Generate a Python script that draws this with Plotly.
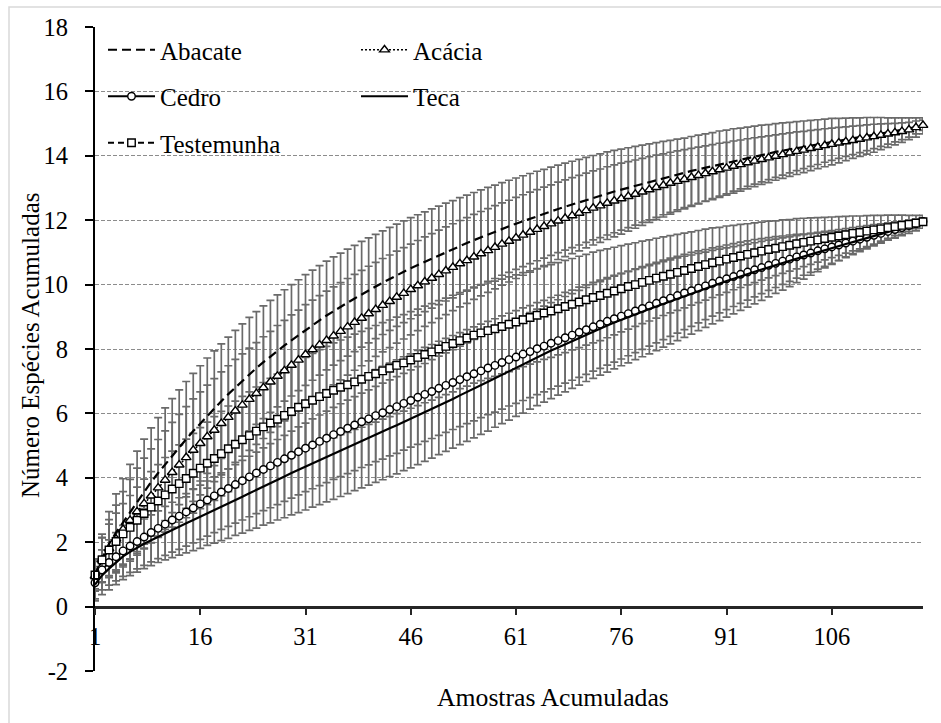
import plotly.graph_objects as go

# ---------------- data ----------------
amostras = list(range(1, 120))

abacate = [1.00, 1.50, 1.95, 2.30, 2.62, 2.95, 3.27, 3.57, 3.87, 4.15,
           4.42, 4.69, 4.95, 5.20, 5.45, 5.69, 5.93, 6.16, 6.38, 6.60,
           6.81, 7.02, 7.22, 7.41, 7.59, 7.77, 7.94, 8.11, 8.27, 8.43,
           8.59, 8.74, 8.89, 9.04, 9.18, 9.31, 9.44, 9.57, 9.70, 9.82,
           9.94, 10.06, 10.18, 10.29, 10.40, 10.51, 10.61, 10.71, 10.81, 10.91,
           11.01, 11.10, 11.20, 11.29, 11.38, 11.47, 11.56, 11.64, 11.73, 11.81,
           11.89, 11.97, 12.05, 12.13, 12.20, 12.28, 12.35, 12.42, 12.49, 12.56,
           12.63, 12.70, 12.76, 12.83, 12.89, 12.95, 13.01, 13.07, 13.13, 13.19,
           13.25, 13.31, 13.36, 13.42, 13.47, 13.53, 13.58, 13.63, 13.68, 13.74,
           13.79, 13.84, 13.88, 13.93, 13.98, 14.03, 14.07, 14.12, 14.16, 14.20,
           14.24, 14.28, 14.32, 14.36, 14.40, 14.44, 14.47, 14.51, 14.55, 14.58,
           14.62, 14.65, 14.69, 14.72, 14.76, 14.80, 14.84, 14.88, 14.93]

acacia = [0.95, 1.45, 1.80, 2.10, 2.40, 2.68, 2.95, 3.20, 3.44, 3.69,
          3.93, 4.17, 4.40, 4.63, 4.86, 5.07, 5.28, 5.48, 5.69, 5.88,
          6.08, 6.26, 6.44, 6.62, 6.80, 6.98, 7.16, 7.33, 7.50, 7.66,
          7.83, 7.98, 8.13, 8.27, 8.41, 8.55, 8.69, 8.83, 8.96, 9.10,
          9.23, 9.36, 9.48, 9.61, 9.73, 9.85, 9.97, 10.09, 10.20, 10.32,
          10.43, 10.54, 10.65, 10.75, 10.86, 10.96, 11.06, 11.16, 11.26, 11.35,
          11.45, 11.54, 11.63, 11.72, 11.81, 11.89, 11.98, 12.06, 12.14, 12.22,
          12.30, 12.38, 12.45, 12.53, 12.60, 12.67, 12.74, 12.81, 12.88, 12.95,
          13.02, 13.08, 13.15, 13.21, 13.27, 13.33, 13.39, 13.45, 13.51, 13.57,
          13.62, 13.68, 13.73, 13.79, 13.84, 13.89, 13.94, 13.99, 14.04, 14.09,
          14.14, 14.18, 14.23, 14.27, 14.32, 14.36, 14.40, 14.44, 14.48, 14.52,
          14.56, 14.60, 14.64, 14.68, 14.72, 14.76, 14.81, 14.88, 14.95]

cedro = [0.74, 1.14, 1.37, 1.55, 1.73, 1.88, 2.02, 2.16, 2.30, 2.43,
         2.56, 2.69, 2.81, 2.94, 3.06, 3.19, 3.31, 3.44, 3.56, 3.67,
         3.79, 3.91, 4.03, 4.15, 4.26, 4.37, 4.48, 4.59, 4.70, 4.81,
         4.92, 5.02, 5.13, 5.23, 5.34, 5.44, 5.54, 5.64, 5.74, 5.83,
         5.93, 6.02, 6.12, 6.21, 6.31, 6.40, 6.50, 6.59, 6.68, 6.78,
         6.87, 6.96, 7.05, 7.14, 7.23, 7.32, 7.41, 7.49, 7.58, 7.67,
         7.75, 7.84, 7.92, 8.01, 8.09, 8.18, 8.26, 8.35, 8.43, 8.52,
         8.60, 8.69, 8.77, 8.86, 8.94, 9.02, 9.10, 9.18, 9.26, 9.34,
         9.42, 9.50, 9.58, 9.66, 9.74, 9.81, 9.89, 9.96, 10.04, 10.11,
         10.18, 10.25, 10.32, 10.39, 10.46, 10.53, 10.60, 10.66, 10.73, 10.79,
         10.86, 10.92, 10.98, 11.05, 11.11, 11.17, 11.23, 11.29, 11.35, 11.41,
         11.47, 11.53, 11.59, 11.65, 11.71, 11.77, 11.83, 11.89, 11.96]

teca = [0.68, 0.97, 1.18, 1.38, 1.56, 1.70, 1.83, 1.95, 2.06, 2.17,
        2.28, 2.38, 2.49, 2.59, 2.69, 2.79, 2.90, 3.00, 3.10, 3.20,
        3.31, 3.41, 3.52, 3.62, 3.73, 3.83, 3.94, 4.04, 4.15, 4.25,
        4.35, 4.46, 4.56, 4.66, 4.76, 4.86, 4.96, 5.06, 5.16, 5.25,
        5.35, 5.44, 5.54, 5.63, 5.73, 5.83, 5.93, 6.03, 6.14, 6.25,
        6.35, 6.45, 6.56, 6.66, 6.77, 6.88, 6.98, 7.09, 7.20, 7.31,
        7.42, 7.52, 7.63, 7.74, 7.84, 7.95, 8.05, 8.15, 8.25, 8.35,
        8.45, 8.55, 8.64, 8.73, 8.82, 8.91, 8.99, 9.08, 9.16, 9.24,
        9.32, 9.41, 9.49, 9.57, 9.65, 9.73, 9.81, 9.88, 9.96, 10.03,
        10.11, 10.18, 10.26, 10.33, 10.40, 10.47, 10.54, 10.61, 10.67, 10.74,
        10.81, 10.87, 10.94, 11.00, 11.07, 11.13, 11.19, 11.26, 11.32, 11.38,
        11.44, 11.50, 11.57, 11.63, 11.69, 11.76, 11.83, 11.90, 11.97]

testemunha = [0.98, 1.45, 1.76, 2.02, 2.26, 2.46, 2.68, 2.89, 3.09, 3.28,
              3.47, 3.65, 3.82, 3.98, 4.14, 4.30, 4.45, 4.60, 4.75, 4.90,
              5.04, 5.18, 5.31, 5.45, 5.58, 5.70, 5.82, 5.94, 6.06, 6.19,
              6.30, 6.41, 6.52, 6.62, 6.72, 6.81, 6.89, 6.98, 7.06, 7.15,
              7.23, 7.32, 7.40, 7.49, 7.57, 7.66, 7.74, 7.83, 7.91, 8.00,
              8.08, 8.17, 8.26, 8.34, 8.43, 8.50, 8.57, 8.63, 8.70, 8.77,
              8.84, 8.91, 8.98, 9.05, 9.12, 9.18, 9.25, 9.32, 9.39, 9.46,
              9.53, 9.60, 9.66, 9.73, 9.80, 9.87, 9.94, 10.00, 10.07, 10.13,
              10.20, 10.26, 10.32, 10.38, 10.44, 10.50, 10.56, 10.62, 10.68, 10.73,
              10.79, 10.84, 10.89, 10.94, 10.99, 11.04, 11.09, 11.13, 11.18, 11.22,
              11.27, 11.31, 11.35, 11.39, 11.43, 11.47, 11.51, 11.55, 11.59, 11.62,
              11.66, 11.70, 11.73, 11.77, 11.80, 11.84, 11.87, 11.91, 11.95]

sd_abacate = [0.45, 0.75, 1.00, 1.20, 1.35, 1.47, 1.56, 1.63, 1.68, 1.72,
              1.75, 1.77, 1.78, 1.79, 1.79, 1.79, 1.79, 1.78, 1.78, 1.77,
              1.77, 1.76, 1.76, 1.75, 1.75, 1.74, 1.74, 1.73, 1.73, 1.72,
              1.72, 1.71, 1.70, 1.69, 1.68, 1.67, 1.66, 1.65, 1.64, 1.63,
              1.62, 1.61, 1.60, 1.59, 1.58, 1.57, 1.56, 1.55, 1.54, 1.53,
              1.52, 1.51, 1.50, 1.49, 1.48, 1.47, 1.46, 1.45, 1.44, 1.43,
              1.42, 1.41, 1.40, 1.39, 1.38, 1.37, 1.36, 1.35, 1.34, 1.33,
              1.32, 1.31, 1.30, 1.29, 1.28, 1.26, 1.24, 1.22, 1.20, 1.18,
              1.16, 1.14, 1.12, 1.10, 1.08, 1.07, 1.06, 1.05, 1.04, 1.03,
              1.01, 1.00, 0.98, 0.96, 0.94, 0.92, 0.90, 0.88, 0.86, 0.84,
              0.82, 0.80, 0.78, 0.76, 0.74, 0.72, 0.69, 0.66, 0.63, 0.60,
              0.57, 0.54, 0.50, 0.46, 0.42, 0.38, 0.34, 0.30, 0.25]

sd_acacia = [0.45, 0.70, 0.90, 1.05, 1.17, 1.27, 1.35, 1.41, 1.46, 1.50,
             1.53, 1.55, 1.57, 1.58, 1.59, 1.60, 1.60, 1.60, 1.60, 1.60,
             1.60, 1.59, 1.59, 1.58, 1.58, 1.57, 1.57, 1.56, 1.56, 1.55,
             1.55, 1.54, 1.53, 1.53, 1.52, 1.51, 1.50, 1.49, 1.48, 1.47,
             1.46, 1.45, 1.44, 1.43, 1.42, 1.41, 1.40, 1.39, 1.38, 1.37,
             1.36, 1.35, 1.34, 1.33, 1.32, 1.31, 1.30, 1.29, 1.28, 1.27,
             1.26, 1.25, 1.24, 1.23, 1.22, 1.21, 1.20, 1.19, 1.18, 1.17,
             1.16, 1.15, 1.14, 1.13, 1.12, 1.10, 1.08, 1.06, 1.04, 1.02,
             1.00, 0.98, 0.96, 0.94, 0.92, 0.90, 0.88, 0.86, 0.84, 0.82,
             0.80, 0.78, 0.76, 0.74, 0.72, 0.70, 0.68, 0.66, 0.64, 0.62,
             0.60, 0.58, 0.56, 0.54, 0.52, 0.50, 0.48, 0.46, 0.44, 0.42,
             0.40, 0.38, 0.35, 0.32, 0.29, 0.26, 0.23, 0.20, 0.16]

sd_cedro = [0.50, 0.62, 0.70, 0.75, 0.79, 0.82, 0.85, 0.88, 0.91, 0.94,
            0.97, 1.00, 1.03, 1.06, 1.08, 1.10, 1.12, 1.14, 1.16, 1.18,
            1.20, 1.22, 1.24, 1.26, 1.28, 1.30, 1.31, 1.32, 1.33, 1.34,
            1.35, 1.36, 1.37, 1.38, 1.39, 1.40, 1.41, 1.42, 1.42, 1.43,
            1.43, 1.44, 1.44, 1.45, 1.45, 1.45, 1.46, 1.46, 1.46, 1.46,
            1.46, 1.46, 1.46, 1.46, 1.46, 1.45, 1.45, 1.45, 1.45, 1.44,
            1.44, 1.44, 1.43, 1.43, 1.42, 1.42, 1.41, 1.41, 1.40, 1.40,
            1.39, 1.38, 1.37, 1.36, 1.35, 1.33, 1.31, 1.29, 1.27, 1.25,
            1.23, 1.21, 1.19, 1.17, 1.14, 1.11, 1.08, 1.05, 1.02, 0.99,
            0.96, 0.93, 0.90, 0.87, 0.84, 0.81, 0.78, 0.75, 0.72, 0.69,
            0.66, 0.63, 0.60, 0.57, 0.54, 0.51, 0.48, 0.45, 0.42, 0.39,
            0.36, 0.33, 0.30, 0.27, 0.24, 0.21, 0.18, 0.15, 0.12]

sd_teca = [0.50, 0.60, 0.66, 0.70, 0.72, 0.74, 0.76, 0.77, 0.79, 0.80,
           0.83, 0.86, 0.89, 0.92, 0.95, 0.98, 1.00, 1.03, 1.05, 1.08,
           1.10, 1.13, 1.15, 1.18, 1.20, 1.23, 1.25, 1.28, 1.30, 1.33,
           1.35, 1.37, 1.39, 1.41, 1.43, 1.44, 1.45, 1.46, 1.47, 1.48,
           1.49, 1.50, 1.50, 1.51, 1.51, 1.52, 1.52, 1.52, 1.53, 1.53,
           1.53, 1.53, 1.53, 1.53, 1.53, 1.53, 1.53, 1.52, 1.52, 1.52,
           1.51, 1.51, 1.50, 1.50, 1.49, 1.49, 1.48, 1.48, 1.47, 1.47,
           1.46, 1.46, 1.45, 1.45, 1.44, 1.43, 1.42, 1.41, 1.40, 1.39,
           1.37, 1.35, 1.33, 1.31, 1.29, 1.27, 1.24, 1.21, 1.18, 1.15,
           1.12, 1.09, 1.06, 1.03, 1.00, 0.96, 0.92, 0.88, 0.84, 0.80,
           0.75, 0.70, 0.65, 0.60, 0.55, 0.50, 0.45, 0.40, 0.36, 0.32,
           0.28, 0.25, 0.22, 0.19, 0.16, 0.13, 0.10, 0.07, 0.05]

sd_testemunha = [0.50, 0.68, 0.80, 0.88, 0.94, 0.99, 1.03, 1.07, 1.10, 1.13,
                 1.16, 1.18, 1.20, 1.22, 1.24, 1.26, 1.28, 1.30, 1.31, 1.33,
                 1.34, 1.35, 1.36, 1.37, 1.38, 1.39, 1.40, 1.41, 1.42, 1.43,
                 1.44, 1.45, 1.46, 1.46, 1.47, 1.47, 1.48, 1.48, 1.49, 1.49,
                 1.50, 1.50, 1.50, 1.50, 1.50, 1.50, 1.50, 1.50, 1.50, 1.50,
                 1.50, 1.50, 1.49, 1.49, 1.49, 1.48, 1.48, 1.48, 1.47, 1.47,
                 1.46, 1.46, 1.45, 1.45, 1.44, 1.44, 1.43, 1.43, 1.42, 1.42,
                 1.41, 1.41, 1.40, 1.38, 1.36, 1.34, 1.32, 1.30, 1.28, 1.26,
                 1.24, 1.22, 1.20, 1.18, 1.16, 1.14, 1.12, 1.10, 1.08, 1.05,
                 1.03, 1.00, 0.98, 0.95, 0.93, 0.90, 0.88, 0.85, 0.83, 0.80,
                 0.78, 0.75, 0.72, 0.69, 0.66, 0.63, 0.60, 0.57, 0.54, 0.51,
                 0.48, 0.45, 0.42, 0.39, 0.36, 0.32, 0.28, 0.24, 0.20]

x_tick_vals = [1, 16, 31, 46, 61, 76, 91, 106]
x_tick_text = ["1", "16", "31", "46", "61", "76", "91", "106"]
y_tick_vals = [-2, 0, 2, 4, 6, 8, 10, 12, 14, 16, 18]
y_tick_text = ["-2", "0", "2", "4", "6", "8", "10", "12", "14", "16", "18"]

series = [
    ("Abacate", abacate, sd_abacate),
    ("Acácia", acacia, sd_acacia),
    ("Cedro", cedro, sd_cedro),
    ("Teca", teca, sd_teca),
    ("Testemunha", testemunha, sd_testemunha),
]
for name, v, s in series:
    assert len(v) == len(amostras) and len(s) == len(amostras), name

# ---------------- styles ----------------
FONT = "Liberation Serif, 'Times New Roman', Times, 'DejaVu Serif', serif"
styles = {
    "Abacate": dict(mode="lines", line=dict(color="black", width=2.2, dash="9px,5px"),
                    legend="legend"),
    "Acácia": dict(mode="lines+markers", line=dict(color="black", width=1.5, dash="2px,2px"),
                   marker=dict(symbol="triangle-up", size=8.5, color="white",
                               line=dict(color="black", width=1.4)), legend="legend2"),
    "Cedro": dict(mode="lines+markers", line=dict(color="black", width=2),
                  marker=dict(symbol="circle", size=7.5, color="white",
                              line=dict(color="black", width=1.4)), legend="legend"),
    "Teca": dict(mode="lines", line=dict(color="black", width=2.2), legend="legend2"),
    "Testemunha": dict(mode="lines+markers", line=dict(color="black", width=2, dash="6px,4px"),
                       marker=dict(symbol="square", size=7.5, color="white",
                                   line=dict(color="black", width=1.4)), legend="legend"),
}

fig = go.Figure()

# error bars first (beneath all curves)
for name, v, s in series:
    fig.add_trace(go.Scatter(
        x=amostras, y=v, mode="markers", marker=dict(size=1, opacity=0),
        error_y=dict(type="data", array=s, visible=True, color="#6a6a6a",
                     thickness=1.7, width=4),
        showlegend=False, hoverinfo="skip", cliponaxis=False))

for name, v, s in series:
    fig.add_trace(go.Scatter(x=amostras, y=v, name=name, legendgroup=name,
                             cliponaxis=False, **styles[name]))

L, R, T, B = 95, 18, 27, 52
W, H = 941, 723
pw, ph = W - L - R, H - T - B

def px_x(p):
    return (p - L) / pw

def px_y(p):
    return (H - B - p) / ph

legend_common = dict(font=dict(family=FONT, size=25, color="black"),
                     bgcolor="rgba(0,0,0,0)", xanchor="left", yanchor="top",
                     tracegroupgap=11, itemwidth=47, traceorder="grouped")

fig.update_layout(
    width=W, height=H,
    margin=dict(l=L, r=R, t=T, b=B, pad=0),
    paper_bgcolor="white", plot_bgcolor="white",
    font=dict(family=FONT, size=25, color="black"),
    showlegend=True,
    legend=dict(x=px_x(103), y=px_y(27), **legend_common),
    legend2=dict(x=px_x(356), y=px_y(27), **legend_common),
    xaxis=dict(range=[1, 119], tickmode="array", tickvals=x_tick_vals, ticktext=x_tick_text,
               showgrid=False, zeroline=False, showline=True, linecolor="#262626", linewidth=2.5,
               ticks="outside", ticklen=7, tickwidth=2, tickcolor="#262626",
               anchor="free", position=0.1,
               tickfont=dict(family=FONT, size=24.5, color="black")),
    yaxis=dict(range=[-2, 18], tickmode="array", tickvals=y_tick_vals, ticktext=y_tick_text,
               showgrid=True, gridcolor="#8c8c8c", gridwidth=1, griddash="4px,2px",
               zeroline=False, showline=True, linecolor="black", linewidth=2,
               ticks="outside", ticklen=8, tickwidth=2, tickcolor="black",
               ticklabelstandoff=12,
               tickfont=dict(family=FONT, size=24.5, color="black")),
    annotations=[
        dict(text="Amostras Acumuladas", xref="paper", yref="paper",
             x=px_x(553), y=px_y(697), xanchor="center", yanchor="middle",
             showarrow=False, font=dict(family=FONT, size=25.7, color="black")),
        dict(text="Número Espécies Acumuladas", xref="paper", yref="paper",
             x=px_x(30), y=px_y(346), xanchor="center", yanchor="middle", textangle=-90,
             showarrow=False, font=dict(family=FONT, size=25, color="black")),
    ],
    shapes=[
        dict(type="rect", xref="paper", yref="paper", x0=px_x(9), x1=px_x(960),
             y0=px_y(740), y1=px_y(7), line=dict(color="#d9d9d9", width=1.5),
             fillcolor="rgba(0,0,0,0)", layer="below"),
    ],
)

fig.write_html("out.html")
